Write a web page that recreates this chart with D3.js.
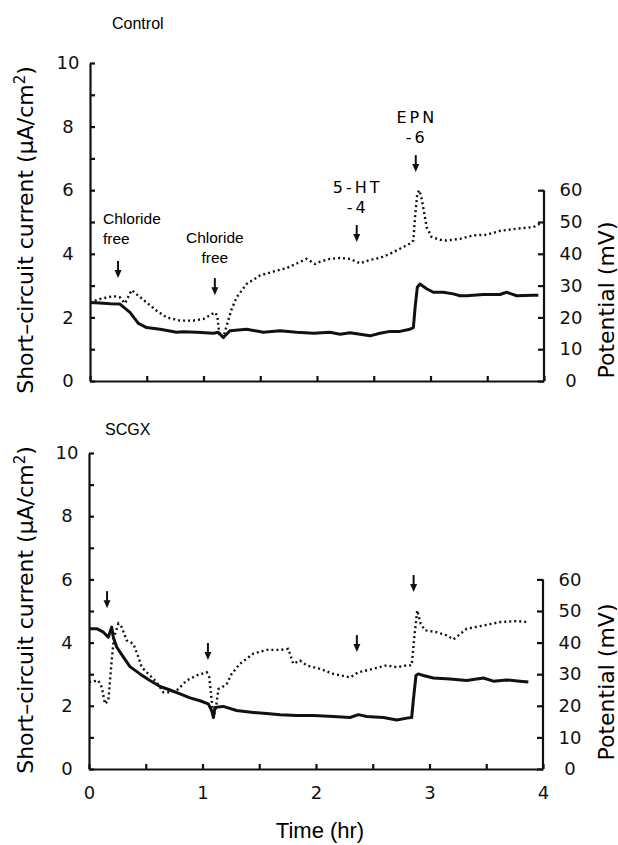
<!doctype html>
<html lang='en'>
<head>
<meta charset='UTF-8'>
<title>Short-circuit current and potential</title>
<script src='https://cdn.jsdelivr.net/npm/d3@7/dist/d3.min.js'></script>
<style>
  body { margin: 0; background: #fff; }
  svg { display: block; }
  .tick text { font-family: 'DejaVu Sans', sans-serif; font-size: 18px; fill: #111; }
  .domain, .tick line { stroke: #111; stroke-width: 2.2; }
</style>
<script>
// ---- data (hours, uA/cm2, mV) ----
ctrl_time_i = [0, 0.088, 0.18, 0.264, 0.352, 0.426, 0.499, 0.617, 0.763, 0.822, 0.94, 1.087, 1.13, 1.175, 1.233,
  1.38, 1.527, 1.674, 1.82, 1.97, 2.114, 2.203, 2.291, 2.379, 2.467, 2.555, 2.643, 2.731, 2.819, 2.849, 2.864,
  2.884, 2.907, 2.966, 3.025, 3.113, 3.2, 3.26, 3.318, 3.465, 3.612, 3.67, 3.76, 3.906, 3.95];
ctrl_current = [2.47, 2.45, 2.43, 2.42, 2.16, 1.81, 1.68, 1.63, 1.53, 1.55, 1.53, 1.50, 1.53, 1.37, 1.58,
  1.63, 1.53, 1.58, 1.53, 1.50, 1.53, 1.47, 1.52, 1.47, 1.42, 1.50, 1.56, 1.56, 1.63, 1.68, 2.30,
  2.95, 3.05, 2.90, 2.79, 2.79, 2.74, 2.68, 2.68, 2.72, 2.72, 2.79, 2.68, 2.70, 2.70];

ctrl_time_p = [0, 0.088, 0.205, 0.264, 0.308, 0.367, 0.426, 0.499, 0.587, 0.675, 0.793, 0.91, 0.998, 1.072, 1.10,
  1.122, 1.139, 1.175, 1.204, 1.248, 1.292, 1.38, 1.498, 1.615, 1.733, 1.909, 1.982, 2.026, 2.114, 2.203, 2.291,
  2.379, 2.467, 2.555, 2.643, 2.731, 2.819, 2.849, 2.864, 2.884, 2.902, 2.922, 2.966, 3.01, 3.084, 3.142, 3.26,
  3.377, 3.494, 3.612, 3.76, 3.906, 3.965];
ctrl_potential = [24.7, 25.8, 26.7, 26.3, 24.4, 28.6, 26.8, 24.7, 22.1, 20.0, 19.0, 19.0, 19.5, 21.0, 21.6,
  20.5, 14.7, 13.7, 17.4, 22.6, 26.3, 30.5, 33.2, 34.4, 35.5, 38.4, 36.8, 37.5, 38.4, 38.7, 38.4,
  37.0, 38.1, 38.7, 40.0, 41.6, 43.2, 44.2, 51.6, 59.0, 60.0, 57.4, 48.4, 45.3, 44.4, 44.2, 44.7,
  45.8, 46.0, 47.2, 47.9, 48.4, 49.5];

scgx_time_i = [0, 0.068, 0.127, 0.17, 0.2, 0.214, 0.244, 0.303, 0.361, 0.449, 0.537, 0.626, 0.714, 0.802, 0.89,
  0.978, 1.051, 1.081, 1.096, 1.11, 1.183, 1.3, 1.448, 1.565, 1.683, 1.83, 1.977, 2.153, 2.3, 2.373, 2.447,
  2.594, 2.712, 2.8, 2.843, 2.857, 2.881, 2.901, 2.946, 3.034, 3.181, 3.328, 3.475, 3.562, 3.68, 3.797, 3.871];
scgx_current = [4.44, 4.44, 4.33, 4.17, 4.49, 4.17, 3.86, 3.54, 3.24, 3.01, 2.80, 2.61, 2.50, 2.38, 2.25,
  2.16, 2.06, 1.85, 1.63, 1.95, 1.98, 1.85, 1.79, 1.76, 1.72, 1.69, 1.69, 1.66, 1.63, 1.72, 1.66,
  1.63, 1.55, 1.61, 1.63, 2.16, 2.96, 3.01, 2.96, 2.88, 2.85, 2.80, 2.88, 2.78, 2.82, 2.78, 2.75];

scgx_time_p = [0, 0.082, 0.112, 0.141, 0.17, 0.2, 0.22, 0.259, 0.288, 0.332, 0.391, 0.435, 0.464, 0.537, 0.596,
  0.655, 0.714, 0.772, 0.86, 0.949, 1.037, 1.06, 1.081, 1.096, 1.119, 1.14, 1.169, 1.213, 1.257, 1.33, 1.448,
  1.565, 1.683, 1.756, 1.8, 1.859, 1.918, 2.035, 2.153, 2.3, 2.373, 2.505, 2.623, 2.712, 2.8, 2.843, 2.866,
  2.892, 2.922, 2.96, 3.063, 3.151, 3.21, 3.328, 3.475, 3.621, 3.768, 3.871];
scgx_potential = [27.5, 28.0, 25.9, 20.6, 21.6, 34.3, 41.7, 46.0, 44.9, 40.7, 39.6, 35.4, 32.2, 29.6, 27.5,
  24.3, 24.3, 24.8, 28.0, 29.6, 30.6, 29.0, 21.6, 16.3, 19.5, 25.3, 25.8, 26.9, 30.1, 33.3, 36.5,
  37.7, 37.7, 38.0, 33.3, 34.3, 32.8, 31.7, 30.1, 29.0, 30.6, 31.7, 32.8, 32.2, 32.8, 32.8, 41.7,
  50.2, 46.0, 43.9, 43.3, 42.3, 41.0, 44.4, 45.4, 46.5, 46.8, 46.5];

// arrows: time (hr) and tip height (uA/cm2 units)
ctrl_arrow_time = [0.247, 1.10, 2.35, 2.87];
ctrl_arrow_tip = [3.24, 2.70, 4.37, 6.57];
ctrl_arrow_text = [['Chloride', 'free'], ['Chloride', 'free'], ['5-HT', '-4'], ['EPN', '-6']];
scgx_arrow_time = [0.159, 1.048, 2.36, 2.86];
scgx_arrow_tip = [5.09, 3.45, 3.70, 5.60];

y_ticks = d3.range(0, 11, 1);
mv_ticks = d3.range(0, 61, 10);
x_ticks = d3.range(0, 4.01, 0.5);

function draw_panel(svg, p) {
    let g = svg.append('g');
    let x = d3.scaleLinear().domain([0, 4]).range([p.x0, p.x1]);
    let y = d3.scaleLinear().domain([0, 10]).range([p.yb, p.yt]);
    let ymv = d3.scaleLinear().domain([0, 100]).range([p.yb, p.yt]);

    // left axis, ticks inside, labels on even values
    g.append('g').attr('transform', 'translate(' + p.x0 + ',0)')
        .call(d3.axisLeft(y).tickValues(y_ticks).tickSizeInner(-5).tickSizeOuter(0)
            .tickFormat(function (d) { return d % 2 == 0 ? d : ''; }))
        .selectAll('text').attr('x', -22).attr('text-anchor', 'middle');
    // right axis 0-60 mV
    let ra = g.append('g').attr('transform', 'translate(' + p.x1 + ',0)')
        .call(d3.axisRight(ymv).tickValues(mv_ticks).tickSizeInner(-6).tickSizeOuter(0));
    ra.selectAll('text').attr('x', 27).attr('text-anchor', 'middle');
    ra.select('.domain').attr('d', 'M0,' + ymv(0) + 'V' + ymv(60));
    // bottom axis
    let xa = g.append('g').attr('transform', 'translate(0,' + p.yb + ')')
        .call(d3.axisBottom(x).tickValues(x_ticks).tickSizeInner(-5).tickSizeOuter(0)
            .tickFormat(function (d) { return (p.xlabels && d % 1 == 0) ? d : ''; }));
    xa.selectAll('text').attr('y', 17);

    // traces
    let line_i = d3.line().x(function (d, i) { return x(p.ti[i]); }).y(function (d) { return y(d); });
    let line_p = d3.line().x(function (d, i) { return x(p.tp[i]); }).y(function (d) { return ymv(d); });
    g.append('path').attr('d', line_p(p.pot)).attr('fill', 'none').attr('stroke', '#111')
        .attr('stroke-width', 2.4).attr('stroke-dasharray', '2,3');
    g.append('path').attr('d', line_i(p.cur)).attr('fill', 'none').attr('stroke', '#111')
        .attr('stroke-width', 3).attr('stroke-linejoin', 'round');

    // arrows
    p.at.forEach(function (t, i) {
        let ax = x(t), ay = y(p.atip[i]);
        g.append('line').attr('x1', ax).attr('x2', ax).attr('y1', ay - 17).attr('y2', ay - 6)
            .attr('stroke', '#111').attr('stroke-width', 2);
        g.append('path').attr('d', 'M' + (ax - 3.5) + ',' + (ay - 8) + 'L' + (ax + 3.5) + ',' + (ay - 8) + 'L' + ax + ',' + ay + 'Z')
            .attr('fill', '#111');
        if (p.atext) {
            let lines = p.atext[i];
            let chl = lines[0] == 'Chloride';
            let anchor = (i == 0) ? 'start' : 'middle';
            let tx = (i == 0) ? ax - 15 : ax;
            let base = chl ? (i == 0 ? 54 : 52) : 49;
            lines.forEach(function (s, k) {
                g.append('text').attr('x', tx + (chl ? 0 : 1)).attr('y', ay - base + k * (chl ? 20 : 19.5))
                    .attr('text-anchor', anchor)
                    .style('font-family', chl ? "'Liberation Sans', sans-serif" : "'DejaVu Sans', sans-serif")
                    .style('font-size', chl ? '15.5px' : '16px')
                    .style('letter-spacing', chl ? '0px' : '3px')
                    .text(s);
            });
        }
    });

    // panel title
    g.append('text').attr('x', p.x0 + p.title_dx).attr('y', p.title_y)
        .style('font-family', "'Liberation Sans', sans-serif").style('font-size', '16px').text(p.title);

    // axis titles
    let lt = g.append('text').attr('transform', 'translate(33,' + p.lcy + ')rotate(-90)')
        .attr('text-anchor', 'middle')
        .style('font-family', "'DejaVu Sans', sans-serif").style('font-size', '22px');
    lt.append('tspan').text('Short\u2013circuit current (\u03bcA/cm');
    lt.append('tspan').attr('dy', -8).style('font-size', '15px').text('2');
    lt.append('tspan').attr('dy', 8).text(')');
    g.append('text').attr('transform', 'translate(614,' + p.rcy + ')rotate(-90)')
        .attr('text-anchor', 'middle')
        .style('font-family', "'DejaVu Sans', sans-serif").style('font-size', '22px')
        .text('Potential (mV)');
}

function draw() {
    let svg = d3.select('#chart').append('svg').attr('width', 618).attr('height', 845);
    draw_panel(svg, {
        x0: 90, x1: 544, yt: 63, yb: 381, xlabels: false,
        ti: ctrl_time_i, cur: ctrl_current, tp: ctrl_time_p, pot: ctrl_potential,
        at: ctrl_arrow_time, atip: ctrl_arrow_tip, atext: ctrl_arrow_text,
        title: 'Control', title_dx: 22, title_y: 29, lcy: 230, rcy: 300
    });
    draw_panel(svg, {
        x0: 89, x1: 543, yt: 453, yb: 769, xlabels: true,
        ti: scgx_time_i, cur: scgx_current, tp: scgx_time_p, pot: scgx_potential,
        at: scgx_arrow_time, atip: scgx_arrow_tip, atext: null,
        title: 'SCGX', title_dx: 16, title_y: 435, lcy: 610, rcy: 682
    });
    svg.append('text').attr('x', 320).attr('y', 838).attr('text-anchor', 'middle')
        .style('font-family', "'Liberation Sans', sans-serif").style('font-size', '22px')
        .text('Time (hr)');
}
window.onload = draw;
</script>
</head>
<body>
<div id='chart'></div>
</body>
</html>
